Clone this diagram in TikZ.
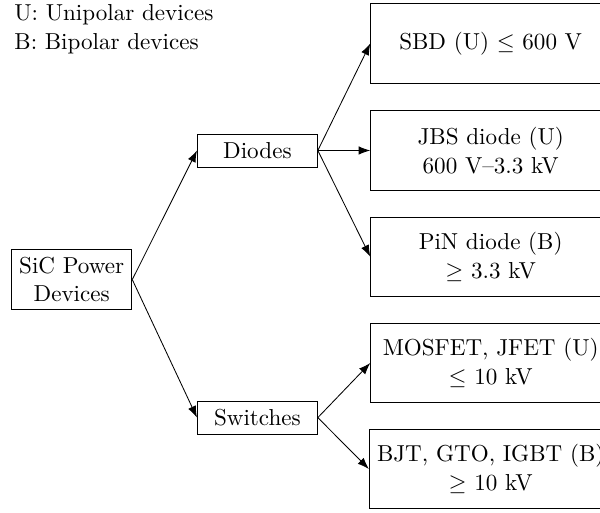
\documentclass[tikz,border=0pt,11pt]{standalone}
\usepackage{amsmath,amssymb}
\usepackage{tikz}
\usetikzlibrary{positioning,arrows.meta}

\begin{document}
\begin{tikzpicture}[
    >={Latex[length=5.5pt,width=4pt]},
    box/.style={
        draw=black,
        minimum width=2cm,
        align=center
    },
    leaf/.style={
        draw=black,
        minimum width=4cm,
        minimum height=1.32cm,
        align=center
    },
    note/.style={
        inner sep=0pt,
        align=left,
        anchor=north west
    },
    arr/.style={->}
]
\useasboundingbox (0,0) rectangle (10,-8.5333);

% legend
\node[note] (legend) at (0.233,-0.067)
{U: Unipolar devices\\
B: Bipolar devices};

% root and branches
\node[box] (sic) at (1.195,-4.66)
{SiC Power\\Devices};

\node[box, minimum height=0.55cm] (diodes) at (4.29,-2.508) {Diodes};
\node[box, minimum height=0.55cm] (switches) at (4.29,-6.96) {Switches};

% leaves
\node[leaf] (sbd) at (8.178,-0.725) {SBD (U) $\leq$ 600 V};
\node[leaf] (jbs) at (8.178,-2.508) {JBS diode (U)\\600 V--3.3 kV};
\node[leaf] (pin) at (8.178,-4.278) {PiN diode (B)\\$\geq$ 3.3 kV};
\node[leaf] (mos) at (8.178,-6.05) {MOSFET, JFET (U)\\$\leq$ 10 kV};
\node[leaf] (bjt) at (8.178,-7.817) {BJT, GTO, IGBT (B)\\$\geq$ 10 kV};

\draw[arr] (sic.east) -- (diodes.west);
\draw[arr] (sic.east) -- (switches.west);
\draw[arr] (diodes.east) -- (sbd.west);
\draw[arr] (diodes.east) -- (jbs.west);
\draw[arr] (diodes.east) -- (pin.west);
\draw[arr] (switches.east) -- (mos.west);
\draw[arr] (switches.east) -- (bjt.west);

\end{tikzpicture}
\end{document}
